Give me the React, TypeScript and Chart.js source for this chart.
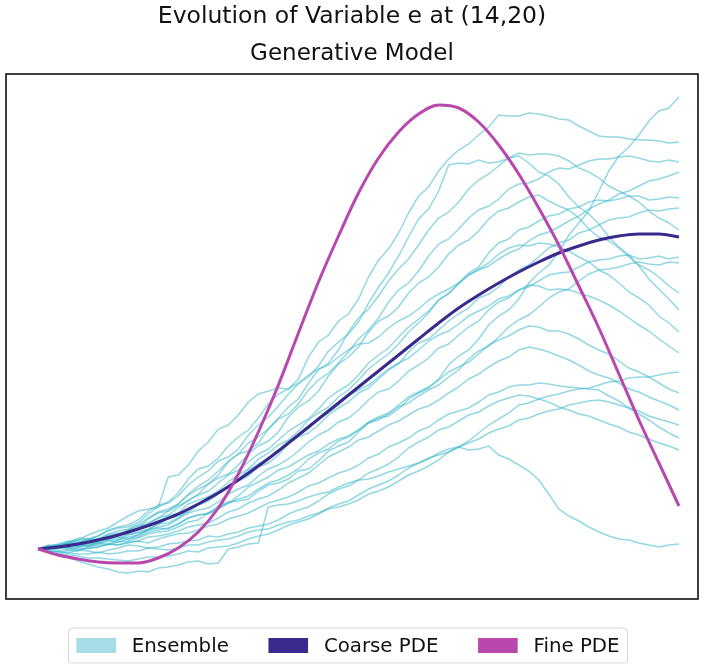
import React, { useEffect, useRef } from "react";
import { Chart, registerables } from "chart.js";

Chart.register(...registerables);

const TITLE = "Evolution of Variable e at (14,20)";
const SUBTITLE = "Generative Model";

const TIME_PDE = [0, 1, 2, 3, 4, 5, 6, 7, 8, 9, 10, 11, 12, 13, 14, 15, 16, 17, 18, 19, 20, 21, 22, 23, 24, 25, 26, 27, 28, 29, 30, 31, 32];
const TIME_ENS = [0, 0.5, 1, 1.5, 2, 2.5, 3, 3.5, 4, 4.5, 5, 5.5, 6, 6.5, 7, 7.5, 8, 8.5, 9, 9.5, 10, 10.5, 11, 11.5, 12, 12.5, 13, 13.5, 14, 14.5, 15, 15.5, 16, 16.5, 17, 17.5, 18, 18.5, 19, 19.5, 20, 20.5, 21, 21.5, 22, 22.5, 23, 23.5, 24, 24.5, 25, 25.5, 26, 26.5, 27, 27.5, 28, 28.5, 29, 29.5, 30, 30.5, 31, 31.5, 32];

const COARSE_PDE = [0, 0.02, 0.05, 0.09, 0.14, 0.2, 0.27, 0.35, 0.45, 0.56, 0.69, 0.83, 0.98, 1.14, 1.3, 1.46, 1.62, 1.78, 1.94, 2.1, 2.26, 2.41, 2.54, 2.66, 2.77, 2.87, 2.96, 3.03, 3.09, 3.13, 3.15, 3.15, 3.12];
const FINE_PDE = [0, -0.06, -0.1, -0.13, -0.14, -0.14, -0.09, 0.01, 0.17, 0.41, 0.75, 1.17, 1.64, 2.16, 2.67, 3.13, 3.56, 3.91, 4.17, 4.35, 4.44, 4.41, 4.27, 4.04, 3.75, 3.41, 3.04, 2.63, 2.21, 1.75, 1.29, 0.86, 0.43];

const ENS_01 = [0, 0.0, 0.03, 0.05, 0.02, 0.03, 0.08, 0.12, 0.12, 0.1, 0.14, 0.19, 0.21, 0.2, 0.25, 0.31, 0.34, 0.36, 0.43, 0.47, 0.48, 0.5, 0.58, 0.64, 0.66, 0.7, 0.78, 0.8, 0.88, 0.98, 1.03, 1.07, 1.17, 1.26, 1.31, 1.33, 1.4, 1.5, 1.56, 1.61, 1.7, 1.84, 1.93, 1.99, 2.1, 2.24, 2.33, 2.39, 2.5, 2.66, 2.76, 2.84, 2.97, 3.14, 3.26, 3.38, 3.58, 3.78, 3.93, 4.02, 4.14, 4.28, 4.38, 4.41, 4.52];
const ENS_02 = [0, 0.02, 0.05, 0.08, 0.09, 0.1, 0.13, 0.18, 0.21, 0.22, 0.26, 0.35, 0.42, 0.47, 0.56, 0.7, 0.8, 0.83, 0.91, 1.03, 1.12, 1.19, 1.31, 1.45, 1.55, 1.6, 1.7, 1.92, 2.07, 2.14, 2.28, 2.35, 2.5, 2.72, 2.89, 3.0, 3.16, 3.36, 3.53, 3.62, 3.78, 3.9, 3.99, 4.05, 4.14, 4.22, 4.34, 4.33, 4.33, 4.36, 4.35, 4.33, 4.3, 4.29, 4.23, 4.18, 4.13, 4.12, 4.12, 4.1, 4.09, 4.09, 4.08, 4.06, 4.07];
const ENS_03 = [0, 0.03, 0.04, 0.06, 0.11, 0.1, 0.13, 0.19, 0.22, 0.24, 0.29, 0.38, 0.44, 0.46, 0.53, 0.64, 0.72, 0.78, 0.88, 0.92, 1.0, 1.14, 1.24, 1.32, 1.43, 1.55, 1.65, 1.72, 1.83, 1.98, 2.07, 2.15, 2.27, 2.46, 2.62, 2.76, 2.93, 3.12, 3.3, 3.4, 3.58, 3.84, 3.86, 3.85, 3.89, 3.86, 3.87, 3.91, 3.93, 3.86, 3.77, 3.73, 3.65, 3.52, 3.42, 3.35, 3.25, 3.12, 3.02, 2.94, 2.83, 2.7, 2.6, 2.5, 2.39];
const ENS_04 = [0, 0.01, 0.02, 0.06, 0.08, 0.07, 0.1, 0.15, 0.18, 0.2, 0.24, 0.31, 0.37, 0.4, 0.45, 0.54, 0.6, 0.65, 0.74, 0.87, 0.95, 0.98, 1.06, 1.2, 1.3, 1.35, 1.45, 1.59, 1.69, 1.76, 1.86, 1.97, 2.1, 2.19, 2.31, 2.47, 2.59, 2.66, 2.78, 2.93, 3.05, 3.1, 3.2, 3.31, 3.39, 3.43, 3.5, 3.6, 3.65, 3.66, 3.7, 3.77, 3.81, 3.8, 3.84, 3.88, 3.9, 3.9, 3.92, 3.93, 3.91, 3.88, 3.87, 3.89, 3.87];
const ENS_05 = [0, 0.02, 0.03, 0.02, 0.06, 0.09, 0.09, 0.14, 0.16, 0.17, 0.21, 0.3, 0.36, 0.38, 0.45, 0.55, 0.63, 0.69, 0.78, 0.88, 0.95, 1.06, 1.12, 1.2, 1.31, 1.42, 1.5, 1.66, 1.79, 1.86, 1.99, 2.17, 2.31, 2.4, 2.53, 2.68, 2.8, 2.9, 3.04, 3.19, 3.31, 3.37, 3.47, 3.6, 3.69, 3.75, 3.83, 3.91, 3.96, 3.94, 3.95, 3.95, 3.93, 3.88, 3.81, 3.77, 3.71, 3.63, 3.58, 3.53, 3.47, 3.38, 3.31, 3.26, 3.19];
const ENS_06 = [0, 0.0, 0.02, 0.05, 0.06, 0.09, 0.1, 0.09, 0.13, 0.19, 0.23, 0.25, 0.31, 0.38, 0.43, 0.48, 0.55, 0.65, 0.71, 0.75, 0.84, 0.95, 1.03, 1.08, 1.17, 1.32, 1.42, 1.48, 1.58, 1.73, 1.85, 1.92, 2.02, 2.17, 2.28, 2.33, 2.42, 2.56, 2.66, 2.72, 2.82, 2.95, 3.04, 3.09, 3.18, 3.3, 3.38, 3.41, 3.47, 3.52, 3.54, 3.48, 3.43, 3.39, 3.31, 3.2, 3.12, 3.08, 3.01, 2.92, 2.84, 2.79, 2.72, 2.63, 2.56];
const ENS_07 = [0, 0.03, 0.04, 0.01, 0.03, 0.07, 0.09, 0.1, 0.13, 0.18, 0.21, 0.23, 0.28, 0.33, 0.36, 0.45, 0.49, 0.52, 0.58, 0.67, 0.74, 0.8, 0.9, 0.96, 1.04, 1.09, 1.18, 1.29, 1.36, 1.42, 1.52, 1.59, 1.69, 1.8, 1.88, 1.95, 2.05, 2.17, 2.26, 2.36, 2.49, 2.55, 2.66, 2.76, 2.82, 2.96, 3.06, 3.1, 3.19, 3.22, 3.28, 3.33, 3.35, 3.4, 3.42, 3.47, 3.49, 3.48, 3.5, 3.53, 3.53, 3.49, 3.5, 3.52, 3.51];
const ENS_08 = [0, -0.02, 0.01, 0.04, 0.05, 0.03, 0.06, 0.09, 0.09, 0.14, 0.16, 0.19, 0.25, 0.26, 0.31, 0.39, 0.44, 0.48, 0.55, 0.63, 0.68, 0.73, 0.82, 0.86, 0.94, 1.05, 1.12, 1.16, 1.24, 1.34, 1.41, 1.47, 1.56, 1.61, 1.7, 1.79, 1.85, 1.97, 2.06, 2.1, 2.19, 2.28, 2.35, 2.41, 2.51, 2.55, 2.62, 2.72, 2.79, 2.84, 2.92, 3.01, 3.06, 3.09, 3.16, 3.19, 3.24, 3.29, 3.31, 3.32, 3.36, 3.39, 3.38, 3.4, 3.41];
const ENS_09 = [0, 0.02, 0.03, 0.0, 0.02, 0.05, 0.06, 0.05, 0.09, 0.12, 0.14, 0.19, 0.22, 0.24, 0.3, 0.36, 0.39, 0.41, 0.47, 0.55, 0.6, 0.64, 0.73, 0.8, 0.84, 0.9, 0.98, 1.07, 1.14, 1.19, 1.27, 1.31, 1.39, 1.49, 1.57, 1.6, 1.68, 1.78, 1.84, 1.91, 2.01, 2.05, 2.14, 2.22, 2.28, 2.39, 2.47, 2.51, 2.59, 2.62, 2.68, 2.74, 2.76, 2.77, 2.82, 2.87, 2.89, 2.9, 2.93, 2.94, 2.9, 2.91, 2.93, 2.9, 2.92];
const ENS_10 = [0, 0.01, 0.01, -0.01, -0.02, 0.02, 0.04, 0.04, 0.07, 0.1, 0.12, 0.17, 0.19, 0.21, 0.25, 0.31, 0.34, 0.35, 0.4, 0.46, 0.5, 0.53, 0.6, 0.66, 0.69, 0.74, 0.8, 0.9, 0.96, 1.0, 1.08, 1.12, 1.19, 1.26, 1.29, 1.35, 1.42, 1.46, 1.53, 1.59, 1.64, 1.72, 1.79, 1.9, 1.98, 2.03, 2.12, 2.22, 2.29, 2.34, 2.42, 2.51, 2.57, 2.6, 2.68, 2.75, 2.79, 2.8, 2.82, 2.85, 2.87, 2.85, 2.84, 2.87, 2.86];
const ENS_11 = [0, 0.04, 0.03, 0.07, 0.06, 0.1, 0.1, 0.13, 0.14, 0.19, 0.21, 0.26, 0.31, 0.34, 0.41, 0.49, 0.54, 0.58, 0.66, 0.74, 0.79, 0.87, 0.95, 1.0, 1.09, 1.18, 1.24, 1.3, 1.4, 1.51, 1.58, 1.64, 1.74, 1.86, 1.94, 2.01, 2.12, 2.22, 2.3, 2.38, 2.49, 2.56, 2.65, 2.74, 2.8, 2.86, 2.95, 3.01, 3.04, 3.03, 3.06, 3.05, 3.02, 2.98, 2.92, 2.87, 2.79, 2.74, 2.66, 2.57, 2.51, 2.44, 2.33, 2.26, 2.17];
const ENS_12 = [0, 0.0, 0.02, 0.04, 0.05, 0.05, 0.07, 0.1, 0.11, 0.15, 0.17, 0.2, 0.25, 0.3, 0.33, 0.37, 0.44, 0.52, 0.57, 0.62, 0.7, 0.79, 0.85, 0.9, 0.99, 1.08, 1.14, 1.2, 1.3, 1.36, 1.44, 1.53, 1.59, 1.64, 1.72, 1.8, 1.86, 1.91, 1.99, 2.08, 2.14, 2.18, 2.25, 2.33, 2.38, 2.43, 2.5, 2.53, 2.59, 2.64, 2.63, 2.59, 2.6, 2.59, 2.56, 2.53, 2.49, 2.44, 2.38, 2.31, 2.24, 2.18, 2.1, 2.03, 1.96];
const ENS_13 = [0, -0.01, 0.0, 0.03, 0.04, 0.03, 0.05, 0.08, 0.07, 0.08, 0.11, 0.15, 0.17, 0.18, 0.22, 0.27, 0.29, 0.36, 0.41, 0.46, 0.53, 0.62, 0.67, 0.72, 0.79, 0.82, 0.88, 0.94, 0.98, 1.05, 1.1, 1.13, 1.19, 1.27, 1.32, 1.36, 1.44, 1.52, 1.57, 1.62, 1.69, 1.77, 1.82, 1.87, 1.95, 2.04, 2.09, 2.13, 2.19, 2.23, 2.22, 2.18, 2.18, 2.15, 2.1, 2.04, 1.99, 1.95, 1.88, 1.81, 1.77, 1.72, 1.66, 1.6, 1.56];
const ENS_14 = [0, -0.03, -0.02, -0.02, 0.01, 0.0, 0.02, 0.05, 0.04, 0.06, 0.08, 0.12, 0.13, 0.15, 0.18, 0.22, 0.24, 0.26, 0.31, 0.37, 0.4, 0.46, 0.5, 0.53, 0.59, 0.66, 0.71, 0.76, 0.84, 0.92, 0.97, 1.02, 1.09, 1.12, 1.18, 1.24, 1.28, 1.34, 1.4, 1.43, 1.49, 1.56, 1.62, 1.7, 1.75, 1.82, 1.88, 1.92, 1.99, 2.02, 2.0, 1.97, 1.93, 1.89, 1.84, 1.78, 1.74, 1.71, 1.66, 1.6, 1.57, 1.52, 1.48, 1.44, 1.39];
const ENS_15 = [0, 0.02, 0.01, 0.02, -0.01, 0.01, 0.02, 0.05, 0.04, 0.07, 0.08, 0.06, 0.1, 0.13, 0.15, 0.16, 0.19, 0.23, 0.25, 0.3, 0.33, 0.36, 0.41, 0.46, 0.49, 0.52, 0.57, 0.63, 0.66, 0.71, 0.76, 0.79, 0.84, 0.91, 0.95, 1.02, 1.06, 1.11, 1.18, 1.22, 1.29, 1.35, 1.38, 1.41, 1.47, 1.54, 1.57, 1.62, 1.64, 1.64, 1.66, 1.65, 1.63, 1.62, 1.61, 1.6, 1.59, 1.53, 1.48, 1.41, 1.35, 1.29, 1.22, 1.16, 1.11];
const ENS_16 = [0, -0.02, -0.03, -0.04, -0.01, -0.02, -0.04, -0.01, 0.01, 0.04, 0.03, 0.01, 0.02, 0.05, 0.06, 0.08, 0.09, 0.13, 0.12, 0.15, 0.17, 0.21, 0.23, 0.25, 0.29, 0.35, 0.39, 0.42, 0.48, 0.55, 0.6, 0.63, 0.69, 0.76, 0.8, 0.85, 0.92, 1.01, 1.07, 1.12, 1.19, 1.22, 1.28, 1.34, 1.37, 1.43, 1.48, 1.51, 1.54, 1.53, 1.5, 1.47, 1.42, 1.39, 1.35, 1.33, 1.29, 1.25, 1.22, 1.17, 1.14, 1.1, 1.06, 1.03, 0.99];
const ENS_17 = [0, -0.03, -0.02, -0.04, -0.05, -0.05, -0.03, -0.05, -0.04, -0.02, -0.02, 0.01, 0.0, -0.01, 0.01, 0.04, 0.04, 0.07, 0.09, 0.1, 0.13, 0.17, 0.19, 0.2, 0.24, 0.27, 0.29, 0.33, 0.36, 0.4, 0.42, 0.45, 0.49, 0.55, 0.58, 0.62, 0.68, 0.74, 0.78, 0.83, 0.89, 0.97, 1.02, 1.08, 1.16, 1.24, 1.3, 1.36, 1.44, 1.46, 1.5, 1.53, 1.55, 1.58, 1.6, 1.61, 1.64, 1.67, 1.68, 1.71, 1.72, 1.72, 1.74, 1.76, 1.77];
const ENS_18 = [0, -0.02, -0.04, -0.06, -0.07, -0.09, -0.09, -0.1, -0.11, -0.12, -0.1, -0.08, -0.08, -0.07, -0.05, -0.02, -0.03, 0.01, 0.02, 0.03, 0.06, 0.1, 0.13, 0.15, 0.19, 0.24, 0.27, 0.3, 0.35, 0.41, 0.45, 0.48, 0.54, 0.6, 0.64, 0.68, 0.74, 0.81, 0.86, 0.9, 0.96, 1.0, 1.02, 0.99, 1.0, 1.03, 0.94, 0.9, 0.84, 0.78, 0.69, 0.55, 0.4, 0.33, 0.28, 0.22, 0.17, 0.13, 0.1, 0.09, 0.06, 0.04, 0.02, 0.04, 0.05];
const ENS_19 = [0, -0.03, -0.06, -0.08, -0.12, -0.15, -0.18, -0.2, -0.23, -0.24, -0.22, -0.23, -0.19, -0.18, -0.16, -0.13, -0.12, -0.15, -0.14, 0.0, 0.02, 0.05, 0.06, 0.42, 0.44, 0.45, 0.48, 0.52, 0.55, 0.57, 0.62, 0.66, 0.69, 0.7, 0.73, 0.77, 0.8, 0.83, 0.86, 0.91, 0.94, 0.97, 1.02, 1.06, 1.1, 1.16, 1.2, 1.23, 1.29, 1.31, 1.35, 1.38, 1.4, 1.44, 1.46, 1.48, 1.49, 1.47, 1.44, 1.41, 1.38, 1.33, 1.3, 1.27, 1.24];
const ENS_20 = [0, 0.03, 0.04, 0.06, 0.09, 0.14, 0.18, 0.21, 0.27, 0.33, 0.38, 0.4, 0.42, 0.72, 0.74, 0.84, 0.98, 1.07, 1.2, 1.24, 1.34, 1.47, 1.55, 1.58, 1.61, 1.6, 1.66, 1.74, 1.8, 1.84, 1.92, 1.99, 2.05, 2.06, 2.12, 2.21, 2.28, 2.33, 2.4, 2.49, 2.55, 2.6, 2.66, 2.74, 2.79, 2.83, 2.9, 2.96, 3.0, 3.08, 3.14, 3.17, 3.22, 3.28, 3.33, 3.4, 3.45, 3.49, 3.55, 3.58, 3.63, 3.68, 3.7, 3.73, 3.77];

const ENSEMBLE = [ENS_01, ENS_02, ENS_03, ENS_04, ENS_05, ENS_06, ENS_07, ENS_08, ENS_09, ENS_10, ENS_11, ENS_12, ENS_13, ENS_14, ENS_15, ENS_16, ENS_17, ENS_18, ENS_19, ENS_20];

const LEGEND_LABELS = ["Ensemble", "Coarse PDE", "Fine PDE"];

const ENS_LINE = "rgba(58,184,204,0.55)";
const ENS_SWATCH = "#a6dce6";
const COARSE_COLOR = "#3a2a8c";
const FINE_COLOR = "#b948ae";
const FONT = '"DejaVu Sans", sans-serif';

const toPoints = (times: number[], vals: number[]) => vals.map((v, i) => ({ x: times[i], y: v }));

const decorPlugin = {
  id: "decor",
  afterDraw(chart: any) {
    const { ctx, chartArea } = chart;
    const { left, top, right, bottom } = chartArea;
    ctx.save();
    ctx.strokeStyle = "#111";
    ctx.lineWidth = 1.6;
    ctx.strokeRect(left, top, right - left, bottom - top);
    const cx = (left + right) / 2;
    ctx.fillStyle = "#111";
    ctx.textAlign = "center";
    ctx.textBaseline = "middle";
    ctx.font = `23.5px ${FONT}`;
    ctx.fillText(TITLE, cx, 17);
    ctx.font = `23px ${FONT}`;
    ctx.fillText(SUBTITLE, cx, 54);
    const F = 19.8;
    ctx.font = `${F}px ${FONT}`;
    const colors = [ENS_SWATCH, COARSE_COLOR, FINE_COLOR];
    const handle = 2.0 * F;
    const hpad = 0.8 * F;
    const col = 2.0 * F;
    const bpad = 0.4 * F;
    const widths = LEGEND_LABELS.map((l) => handle + hpad + ctx.measureText(l).width);
    const total = widths.reduce((a, b) => a + b, 0) + col * (LEGEND_LABELS.length - 1) + 2 * bpad;
    const lx = 348 - total / 2;
    const ly = 628;
    const lh = 35;
    const r = 4;
    ctx.beginPath();
    ctx.moveTo(lx + r, ly);
    ctx.lineTo(lx + total - r, ly);
    ctx.arcTo(lx + total, ly, lx + total, ly + r, r);
    ctx.lineTo(lx + total, ly + lh - r);
    ctx.arcTo(lx + total, ly + lh, lx + total - r, ly + lh, r);
    ctx.lineTo(lx + r, ly + lh);
    ctx.arcTo(lx, ly + lh, lx, ly + lh - r, r);
    ctx.lineTo(lx, ly + r);
    ctx.arcTo(lx, ly, lx + r, ly, r);
    ctx.closePath();
    ctx.fillStyle = "rgba(255,255,255,0.8)";
    ctx.fill();
    ctx.strokeStyle = "#d6d6d6";
    ctx.lineWidth = 1;
    ctx.stroke();
    const cy = ly + lh / 2;
    let x = lx + bpad;
    ctx.textAlign = "left";
    ctx.textBaseline = "middle";
    LEGEND_LABELS.forEach((label, i) => {
      ctx.fillStyle = colors[i];
      ctx.fillRect(x, cy - 7.5, handle, 15);
      ctx.fillStyle = "#111";
      ctx.fillText(label, x + handle + hpad, cy + 1);
      x += widths[i] + col;
    });
    ctx.restore();
  },
};

export default function App() {
  const ref = useRef<HTMLCanvasElement | null>(null);
  useEffect(() => {
    if (!ref.current) return;
    const datasets: any[] = ENSEMBLE.map((vals, i) => ({
      label: `Ensemble ${i + 1}`,
      data: toPoints(TIME_ENS, vals),
      borderColor: ENS_LINE,
      borderWidth: 1.5,
      pointRadius: 0,
      tension: 0,
      order: 3,
    }));
    datasets.push({
      label: "Coarse PDE",
      data: toPoints(TIME_PDE, COARSE_PDE),
      borderColor: COARSE_COLOR,
      borderWidth: 3,
      pointRadius: 0,
      cubicInterpolationMode: "monotone",
      order: 2,
    });
    datasets.push({
      label: "Fine PDE",
      data: toPoints(TIME_PDE, FINE_PDE),
      borderColor: FINE_COLOR,
      borderWidth: 3,
      pointRadius: 0,
      cubicInterpolationMode: "monotone",
      order: 1,
    });
    const chart = new Chart(ref.current, {
      type: "line",
      data: { datasets },
      options: {
        animation: false,
        responsive: false,
        maintainAspectRatio: false,
        layout: { padding: { left: 6, right: 6, top: 74, bottom: 65 } },
        scales: {
          x: { type: "linear", min: -1.6, max: 32.95, display: false },
          y: { type: "linear", min: -0.5, max: 4.75, display: false },
        },
        plugins: {
          legend: { display: false },
          title: { display: false },
          tooltip: { enabled: false },
        },
        events: [],
      },
      plugins: [decorPlugin],
    });
    return () => chart.destroy();
  }, []);
  return (
    <div style={{ position: "absolute", left: 0, top: 0, width: 704, height: 664, background: "#fff" }}>
      <canvas ref={ref} width={704} height={664} style={{ display: "block" }} />
    </div>
  );
}
